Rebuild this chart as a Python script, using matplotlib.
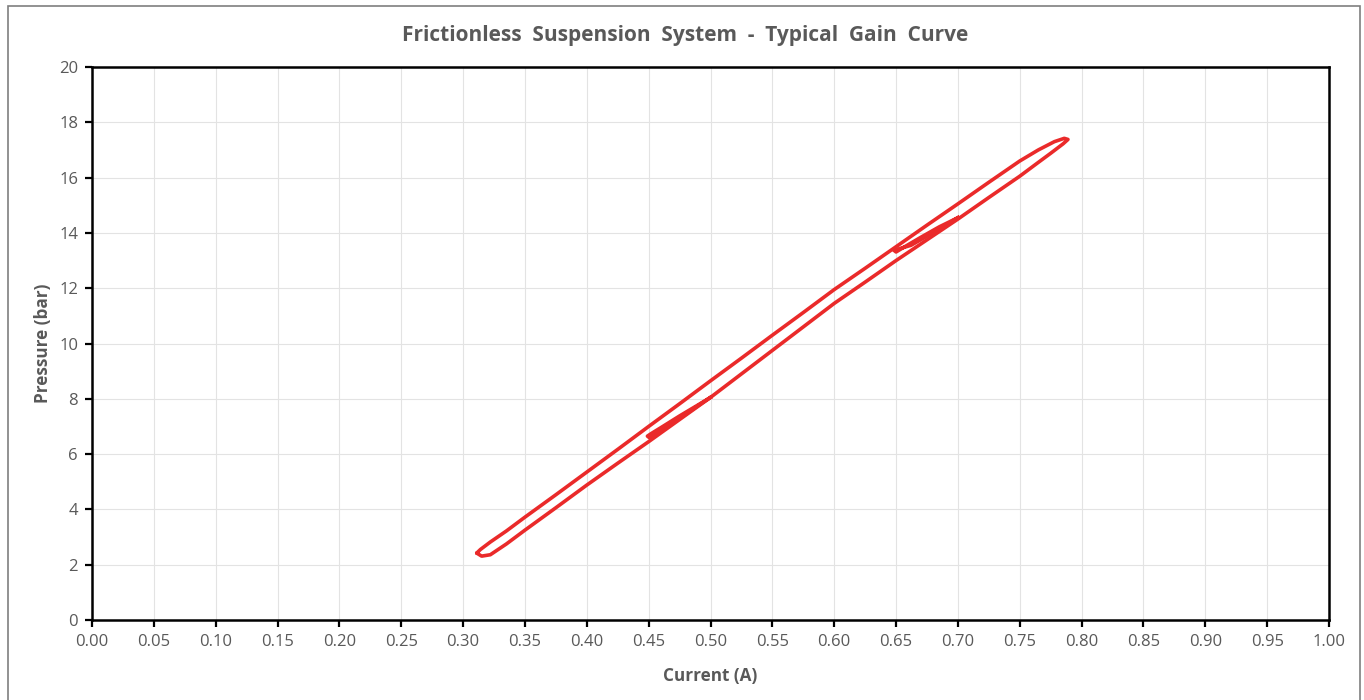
import matplotlib
matplotlib.use("Agg")
import matplotlib.pyplot as plt
import numpy as np
from matplotlib.patches import Rectangle

plt.rcParams['font.family'] = ['Open Sans', 'DejaVu Sans']

# main hysteresis loop, rising current (lower branch)
up_current = [0.311, 0.315, 0.322, 0.335, 0.35, 0.375, 0.40, 0.425, 0.45, 0.475, 0.50, 0.525, 0.55,
              0.575, 0.60, 0.625, 0.65, 0.675, 0.70, 0.725, 0.75, 0.765, 0.775, 0.785, 0.789]
up_pressure = [2.42, 2.31, 2.36, 2.75, 3.25, 4.06, 4.88, 5.67, 6.45, 7.25, 8.05, 8.9, 9.75,
               10.6, 11.45, 12.22, 13.0, 13.75, 14.5, 15.28, 16.05, 16.55, 16.88, 17.22, 17.38]

# main loop, falling current (upper branch)
down_current = [0.789, 0.786, 0.778, 0.765, 0.75, 0.725, 0.70, 0.675, 0.65, 0.625, 0.60, 0.575, 0.55,
                0.525, 0.50, 0.475, 0.45, 0.425, 0.40, 0.375, 0.35, 0.335, 0.322, 0.314, 0.311]
down_pressure = [17.38, 17.42, 17.3, 17.0, 16.6, 15.83, 15.05, 14.28, 13.5, 12.72, 11.95, 11.12, 10.3,
                 9.47, 8.65, 7.82, 7.0, 6.17, 5.35, 4.53, 3.72, 3.22, 2.82, 2.55, 2.42]

# minor loop around 0.45 - 0.50 A
minor1_current = [0.50, 0.49, 0.475, 0.46, 0.452, 0.449, 0.451, 0.458, 0.47, 0.485, 0.50]
minor1_pressure = [8.05, 7.78, 7.38, 6.96, 6.74, 6.65, 6.58, 6.76, 7.14, 7.6, 8.05]

# minor loop around 0.65 - 0.70 A
minor2_current = [0.70, 0.69, 0.675, 0.662, 0.652, 0.648, 0.65, 0.657, 0.67, 0.685, 0.70]
minor2_pressure = [14.55, 14.28, 13.88, 13.55, 13.42, 13.38, 13.31, 13.5, 13.84, 14.22, 14.55]

x_ticks = np.round(np.arange(0, 1.0001, 0.05), 2)
y_ticks = np.arange(0, 21, 2)

grey = '#595959'
red = '#ea2a2a'

fig = plt.figure(figsize=(13.64, 7), dpi=100)
ax = fig.add_axes([92 / 1364, 80 / 700, 1237 / 1364, 553 / 700])

ax.plot(up_current + down_current, up_pressure + down_pressure, color=red, lw=2.6,
        solid_joinstyle='round', solid_capstyle='round')
ax.plot(minor1_current, minor1_pressure, color=red, lw=2.6, solid_joinstyle='round')
ax.plot(minor2_current, minor2_pressure, color=red, lw=2.6, solid_joinstyle='round')

ax.set_xlim(0, 1)
ax.set_ylim(0, 20)
ax.set_xticks(x_ticks)
ax.set_xticklabels([f"{t:.2f}" for t in x_ticks])
ax.set_yticks(y_ticks)
ax.grid(True, color='#e3e3e3', lw=0.8)
ax.set_axisbelow(True)

for s in ax.spines.values():
    s.set_linewidth(1.8)
    s.set_color('black')
ax.tick_params(axis='both', direction='out', length=5, width=1.6, color='black',
               labelcolor=grey, labelsize=12, pad=5)

ax.set_xlabel('Current (A)', fontsize=12.3, fontweight='bold', color=grey, labelpad=12)
ax.set_ylabel('Pressure (bar)', fontsize=12.3, fontweight='bold', color=grey, labelpad=5)
fig.text(0.502, 0.949, 'Frictionless  Suspension  System  -  Typical  Gain  Curve',
         ha='center', va='center', fontsize=15, fontweight='bold', color=grey)

# outer chart border
fig.patches.append(Rectangle((8 / 1364, -0.05), 1352 / 1364, 1.05 - 6 / 700,
                             transform=fig.transFigure, fill=False, ec='#7f7f7f', lw=1.2))

fig.savefig('out.png', dpi=100)
